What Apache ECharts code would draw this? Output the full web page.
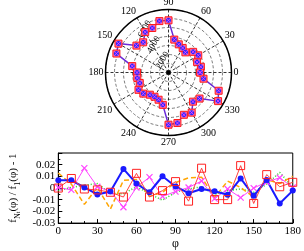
<!DOCTYPE html>
<html><head><meta charset="utf-8">
<script src="https://cdn.jsdelivr.net/npm/echarts@6/dist/echarts.min.js"></script>
<style>html,body{margin:0;padding:0;background:#fff}#c{width:304px;height:251px}</style>
</head><body><div id="c"></div>
<script>
// Polar data (angle in degrees, radius value)
const polarAngles = [0,10,20,30,40,50,60,70,80,90,100,110,120,130,140,150,160,170,180,190,200,210,220,230,240,250,260,270,280,290,300,310,320,330,340,350];
const polarValues = [3510,3650,3380,3820,3570,2920,3150,3330,3710,5800,5800,5260,5180,4380,4650,6420,6160,4090,3500,3520,3400,3850,3650,3220,3110,3220,3650,5800,5700,5000,5150,4230,4500,6360,5930,3950];
const radiusTicks = [2000,4000,6000];

// Lower panel data
const phi = [0,10,20,30,40,50,60,70,80,90,100,110,120,130,140,150,160,170,180];
const blueVals    = [0.0066,0.0066,0.0005,-0.0055,-0.0030,0.0164,0.0038,-0.0036,0.0101,0.0014,-0.0044,-0.0008,-0.0027,-0.0058,0.0082,-0.0066,0.0068,-0.0132,-0.0022];
const redVals     = [0.0000,0.0082,-0.0008,-0.0016,-0.0036,-0.0077,0.0126,-0.0077,-0.0022,0.0055,-0.0112,0.0170,-0.0099,-0.0099,0.0192,-0.0132,0.0115,0.0011,0.0049];
const magentaVals = [0.0005,-0.0016,0.0170,0.0011,-0.0027,-0.0164,0.0005,0.0093,-0.0071,-0.0030,0.0005,0.0060,-0.0090,-0.0008,-0.0082,0.0000,0.0052,0.0088,0.0005];
const orangeVals  = [0.0129,0.0033,-0.0140,0.0005,-0.0180,0.0066,0.0074,-0.0071,-0.0036,0.0047,0.0088,0.0093,-0.0082,0.0060,0.0005,-0.0077,0.0074,0.0038,0.0101];
const greenVals   = [-0.0022,0.0005,0.0025,0.0038,-0.0044,-0.0049,0.0011,-0.0049,-0.0104,-0.0036,-0.0008,0.0011,-0.0055,-0.0022,-0.0008,-0.0036,0.0033,0.0134,0.0005];

const FONT = 'Liberation Serif';
const polarData = polarAngles.map((a,i)=>[polarValues[i], a]);
polarData.push([polarValues[0], 360]);
const pair = arr => phi.map((x,i)=>[x, arr[i]]);
const CROSS = 'path://M0,0L10,10M10,0L0,10';

const chart = echarts.init(document.getElementById('c'), null, {renderer:'canvas'});
chart.setOption({
  animation:false,
  backgroundColor:'#fff',
  textStyle:{fontFamily:FONT},
  polar:[
    {center:[168.5,72.5], radius:63},
    {center:[168.5,72.5], radius:63}
  ],
  angleAxis:[
    {polarIndex:0, type:'value', min:0, max:360, interval:30, startAngle:0, clockwise:false,
     axisLine:{lineStyle:{color:'#000', width:1.5}},
     axisTick:{show:false},
     axisLabel:{color:'#000', fontFamily:FONT, fontSize:10, margin:2,
       formatter:v=> v===360 ? '' : String(v)},
     splitLine:{show:true, lineStyle:{color:'#000', type:[3,2], width:0.8}}},
    {polarIndex:1, type:'value', min:0, max:360, startAngle:120, clockwise:false, show:false}
  ],
  radiusAxis:[
    {polarIndex:0, type:'value', min:0, max:7000, interval:1000,
     axisLine:{show:false}, axisTick:{show:false}, axisLabel:{show:false},
     splitLine:{show:true, lineStyle:{color:'#444', type:[3,2], width:0.7}}},
    {polarIndex:1, type:'value', min:0, max:7000, interval:2000,
     axisLine:{show:false}, axisTick:{show:false}, splitLine:{show:false},
     axisLabel:{show:true, color:'#000', fontFamily:FONT, fontSize:9, rotate:60, margin:-9,
       formatter:v=> radiusTicks.indexOf(v)>=0 ? String(v) : ''}}
  ],
  grid:{left:41, right:8, top:153, bottom:23, show:true, borderColor:'#000', borderWidth:1, backgroundColor:'transparent'},
  xAxis:{type:'value', min:0, max:180, interval:30,
    name:'φ', nameLocation:'middle', nameGap:14, nameTextStyle:{color:'#000', fontFamily:FONT, fontSize:12},
    axisLine:{onZero:false, lineStyle:{color:'#000'}}, axisTick:{inside:true, length:4, lineStyle:{color:'#000'}},
    minorTick:{show:true, splitNumber:3, length:2, lineStyle:{color:'#000'}},
    axisLabel:{color:'#000', fontFamily:FONT, fontSize:11, margin:3},
    splitLine:{show:false}},
  yAxis:{type:'value', min:-0.03, max:0.03, interval:0.01,
    name:'{i|f}{s|N}{ss|t}{i|(φ) / f}{s|1}{i|(φ) - 1}', nameLocation:'middle', nameGap:29,
    nameTextStyle:{color:'#000', fontFamily:FONT,
      rich:{i:{fontSize:11, fontFamily:FONT, color:'#000', lineHeight:16, verticalAlign:'middle'},
            s:{fontSize:8, fontFamily:FONT, color:'#000', lineHeight:16, verticalAlign:'bottom'},
            ss:{fontSize:6, fontFamily:FONT, color:'#000', lineHeight:16, verticalAlign:'bottom'}}},
    axisLine:{onZero:false, lineStyle:{color:'#000'}}, axisTick:{inside:true, length:4, lineStyle:{color:'#000'}},
    minorTick:{show:true, splitNumber:2, length:2, lineStyle:{color:'#000'}},
    axisLabel:{color:'#000', fontFamily:FONT, fontSize:11, margin:3,
      formatter:v=> Math.abs(v)<1e-9 ? '0' : (v>0.025 ? '' : v.toFixed(2))},
    splitLine:{show:false}},
  series:[
    {type:'line', coordinateSystem:'polar', polarIndex:0, data:polarData, symbol:'rect', symbolSize:7, z:2,
     lineStyle:{color:'#6a2ad8', width:1.5},
     itemStyle:{color:'#ff70a0', borderColor:'#ff1a1a', borderWidth:1}},
    {type:'scatter', coordinateSystem:'polar', polarIndex:0, data:polarData, symbol:'circle', symbolSize:5, z:5,
     itemStyle:{color:'#2a2aff', opacity:1}},
    {type:'scatter', coordinateSystem:'polar', polarIndex:0, data:polarData, symbol:CROSS, symbolSize:4, z:6,
     itemStyle:{color:'none', borderColor:'#ff44ff', borderWidth:0.8, opacity:1}},
    {type:'scatter', coordinateSystem:'polar', polarIndex:0, data:[[0,0]], symbol:'rect', symbolSize:4, z:6,
     itemStyle:{color:'#000', opacity:1}},

    {type:'line', data:pair(greenVals), symbol:'none',
     lineStyle:{color:'#22dd22', width:1.5, type:[1,2]}},
    {type:'line', data:pair(orangeVals), symbol:'none',
     lineStyle:{color:'#ffa500', width:1.5, type:[5,3]}},
    {type:'line', data:pair(magentaVals), symbol:CROSS, symbolSize:6,
     lineStyle:{color:'#ff44ff', width:1},
     itemStyle:{color:'none', borderColor:'#ff44ff', borderWidth:1.2}},
    {type:'line', data:pair(blueVals), symbol:'circle', symbolSize:6,
     lineStyle:{color:'#1a1aff', width:2},
     itemStyle:{color:'#1a1aff'}},
    {type:'line', data:pair(redVals), symbol:'rect', symbolSize:8,
     lineStyle:{color:'#ff4040', width:1},
     itemStyle:{color:'rgba(255,255,255,0)', borderColor:'#ff2020', borderWidth:1}}
  ]
});
</script></body></html>
